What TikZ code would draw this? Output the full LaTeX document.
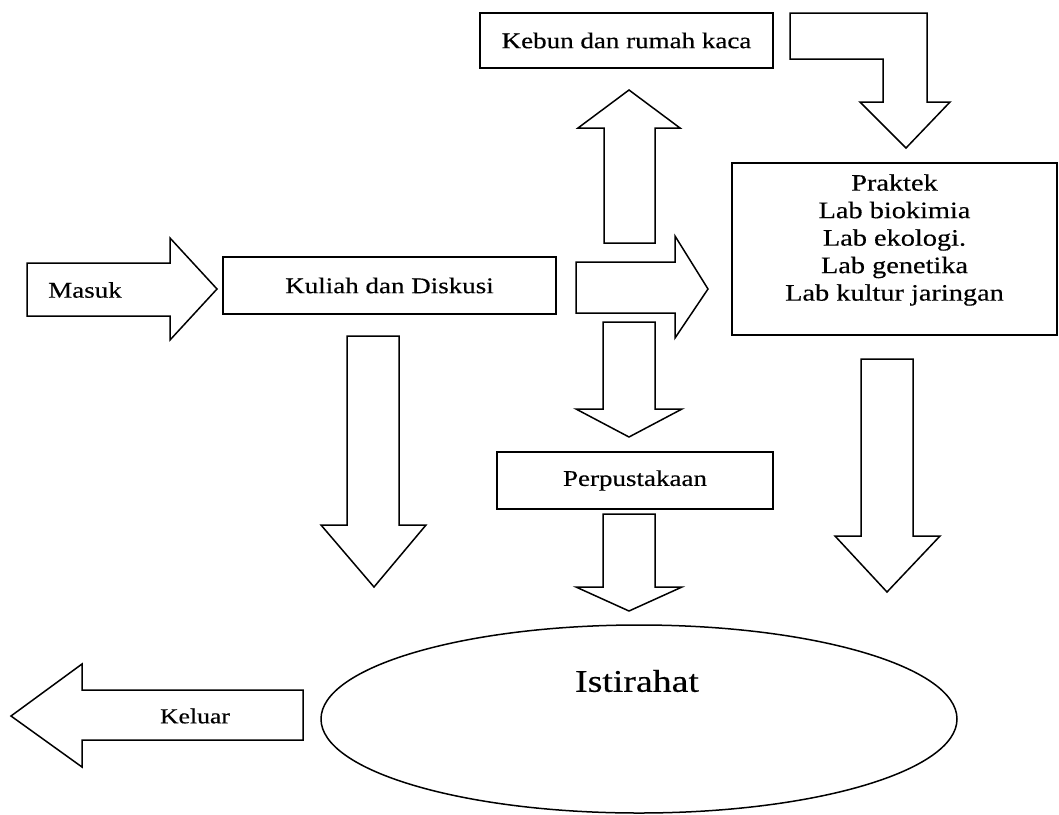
\documentclass[tikz,border=0pt]{standalone}
\usepackage{fontspec}
\setmainfont[FakeStretch=1.2, FakeBold=0.4]{Liberation Serif}
\usetikzlibrary{shapes.geometric}
\begin{document}
\begin{tikzpicture}[x=1pt,y=-1pt,
  roombox/.style={draw, line width=1.5pt, inner sep=0pt, outer sep=0pt,
    font=\fontsize{22.5}{27}\selectfont},
  blockarrow/.style={draw, line width=1.5pt, line join=miter, fill=white},
  txt/.style={inner sep=0pt, font=\fontsize{22.5}{27}\selectfont}]
\useasboundingbox (0,0) rectangle (1059,814);

% rooms
\node[roombox, minimum width=293pt, minimum height=55pt] (kebun) at (626.5,40.5) {Kebun dan rumah kaca};
\node[roombox, minimum width=333pt, minimum height=57pt] (kuliah) at (389.5,285.5) {Kuliah dan Diskusi};
\node[roombox, minimum width=325pt, minimum height=172pt] (praktek) at (894.5,249) {};
\node[txt, align=center, font=\fontsize{23.6}{27.5}\selectfont] (praktektext) at (894.5,240)
  {Praktek\\Lab biokimia\\Lab ekologi.\\Lab genetika\\Lab kultur jaringan};
\node[roombox, minimum width=276pt, minimum height=57pt] (perpus) at (635,480.5) {Perpustakaan};
\node[draw, ellipse, line width=1.5pt, minimum width=636pt, minimum height=188pt] (istirahat) at (639,719) {};
\node[txt, font=\fontsize{31.5}{36}\selectfont] (istirahattext) at (637,681) {Istirahat};

% entrance arrow
\draw[blockarrow] (27,263) -- (170,263) -- (170,238) -- (217,289) -- (170,340) -- (170,316) -- (27,316) -- cycle;
\node[txt] (masuk) at (85,290) {Masuk};

% exit arrow
\draw[blockarrow] (11,716) -- (82,664) -- (82,690) -- (303,690) -- (303,740) -- (82,740) -- (82,767) -- cycle;
\node[txt, font=\fontsize{21.4}{25}\selectfont] (keluar) at (195,716) {Keluar};

% up to the garden
\draw[blockarrow] (604,243) -- (604,128) -- (578,128) -- (629,90) -- (680,128) -- (655,128) -- (655,243) -- cycle;

% garden to the labs
\draw[blockarrow] (790,13) -- (927,13) -- (927,102) -- (950,102) -- (906,148) -- (860,102) -- (883,102) -- (883,59) -- (790,59) -- cycle;

% right to the labs
\draw[blockarrow] (576,262) -- (675,262) -- (675,236) -- (708,289) -- (675,338) -- (675,313) -- (576,313) -- cycle;

% down to the library
\draw[blockarrow] (603,322) -- (655,322) -- (655,409) -- (682,409) -- (629,437) -- (576,409) -- (603,409) -- cycle;

% library to the break
\draw[blockarrow] (603,514) -- (655,514) -- (655,587) -- (682,587) -- (629,611) -- (576,587) -- (603,587) -- cycle;

% lecture to the break
\draw[blockarrow] (347,336) -- (399,336) -- (399,525) -- (426,525) -- (374,587) -- (321,525) -- (347,525) -- cycle;

% labs to the break
\draw[blockarrow] (861,359) -- (913,359) -- (913,536) -- (940,536) -- (887,592) -- (835,536) -- (861,536) -- cycle;
\end{tikzpicture}
\end{document}
